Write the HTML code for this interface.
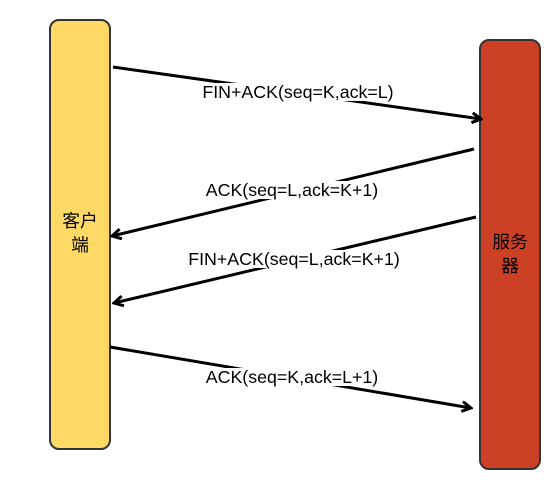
<!DOCTYPE html>
<html><head><meta charset="utf-8"><style>
html,body{margin:0;padding:0;background:#fff;}
svg{display:block;}
text{font-family:"Liberation Sans","Noto Sans CJK SC",sans-serif;font-size:17.8px;fill:#000;}
</style></head><body>
<svg width="560" height="490" viewBox="0 0 560 490" xmlns="http://www.w3.org/2000/svg">
<defs>
<marker id="a" markerWidth="12" markerHeight="12" refX="10" refY="6" orient="auto" markerUnits="userSpaceOnUse">
<path d="M1,1 L10,6 L1,11" fill="none" stroke="#000" stroke-width="3"/>
</marker>
</defs>
<rect x="50" y="20" width="60" height="429" rx="9" fill="#FFD966" stroke="#333" stroke-width="2"/>
<rect x="480" y="40" width="60" height="429" rx="9" fill="#CC4125" stroke="#333" stroke-width="2"/>
<text x="80" y="227" text-anchor="middle">客户</text>
<text x="80" y="251" text-anchor="middle">端</text>
<text x="510" y="248" text-anchor="middle">服务</text>
<text x="510" y="272" text-anchor="middle">器</text>
<g stroke="#000" stroke-width="3" fill="none">
<line x1="113" y1="67" x2="481" y2="119" marker-end="url(#a)"/>
<line x1="474" y1="149" x2="112" y2="236" marker-end="url(#a)"/>
<line x1="476" y1="217" x2="114" y2="303" marker-end="url(#a)"/>
<line x1="110" y1="347" x2="471" y2="408" marker-end="url(#a)"/>
</g>
<g fill="#fff">
<rect x="200" y="83" width="196" height="18"/>
<rect x="203" y="181" width="178" height="18"/>
<rect x="186" y="250" width="216" height="18"/>
<rect x="203" y="368" width="178" height="18"/>
</g>
<text x="298" y="98" text-anchor="middle">FIN+ACK(seq=K,ack=L)</text>
<text x="292" y="196" text-anchor="middle">ACK(seq=L,ack=K+1)</text>
<text x="294" y="265" text-anchor="middle">FIN+ACK(seq=L,ack=K+1)</text>
<text x="292" y="383" text-anchor="middle">ACK(seq=K,ack=L+1)</text>
</svg>
</body></html>
